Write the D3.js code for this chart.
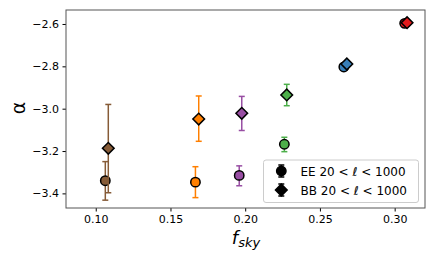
<!DOCTYPE html>
<html>
<head>
<meta charset="utf-8">
<script src="https://cdn.jsdelivr.net/npm/d3@7"></script>
<style>
  body { margin: 0; background: #fff; }
  #chart { width: 436px; height: 262px; }
  text { font-family: "DejaVu Sans", sans-serif; }
</style>
</head>
<body>
<div id="chart"></div>
<script>
// values
const colors = ["#865b37", "#ff7f00", "#984ea3", "#4daf4a", "#377eb8", "#e41a1c"];

const eeX = [0.1064, 0.1667, 0.1960, 0.2262, 0.2660, 0.3067];
const eeY = [-3.340, -3.347, -3.315, -3.168, -2.803, -2.597];
const eeLo = [-3.432, -3.420, -3.364, -3.203, -2.812, -2.603];
const eeHi = [-3.250, -3.274, -3.270, -3.135, -2.794, -2.591];

const bbX = [0.1084, 0.1689, 0.1977, 0.2278, 0.2680, 0.3083];
const bbY = [-3.187, -3.049, -3.022, -2.935, -2.789, -2.594];
const bbLo = [-3.397, -3.154, -3.103, -2.986, -2.799, -2.600];
const bbHi = [-2.980, -2.940, -2.942, -2.885, -2.779, -2.588];

const xTicks = [0.10, 0.15, 0.20, 0.25, 0.30];
const yTicks = [-3.4, -3.2, -3.0, -2.8, -2.6];
const legendLabels = ["EE", "BB"];

const width = 436, height = 262;
const margin = { left: 66, top: 10, right: 11, bottom: 54 };

const svg = d3.select("#chart").append("svg")
    .attr("width", width)
    .attr("height", height);

const x = d3.scaleLinear().domain([0.0801, 0.3203]).range([margin.left, width - margin.right]);
const y = d3.scaleLinear().domain([-3.469, -2.534]).range([height - margin.bottom, margin.top]);

// axes
const fmt = d => d3.format(".1f")(d).replace("-", "\u2212");
svg.append("g")
    .attr("transform", `translate(0,${height - margin.bottom})`)
    .call(d3.axisBottom(x).tickValues(xTicks).tickFormat(d3.format(".2f")).tickSize(3.5).tickPadding(3.5))
    .call(g => g.select(".domain").remove())
    .call(g => g.selectAll("text").attr("font-size", 11).attr("fill", "#000"));

svg.append("g")
    .attr("transform", `translate(${margin.left},0)`)
    .call(d3.axisLeft(y).tickValues(yTicks).tickFormat(fmt).tickSize(3.5).tickPadding(3.5))
    .call(g => g.select(".domain").remove())
    .call(g => g.selectAll("text").attr("font-size", 11).attr("fill", "#000"));

svg.append("rect")
    .attr("x", margin.left).attr("y", margin.top)
    .attr("width", width - margin.left - margin.right)
    .attr("height", height - margin.top - margin.bottom)
    .attr("fill", "none").attr("stroke", "#555").attr("stroke-width", 1);

// axis labels
svg.append("text")
    .attr("x", 19).attr("y", 108)
    .attr("text-anchor", "middle")
    .attr("dominant-baseline", "middle")
    .attr("transform", "rotate(-90,19,108)")
    .attr("font-size", 19)
    .text("\u03b1");

const xl = svg.append("text")
    .attr("x", 246).attr("y", 244)
    .attr("text-anchor", "middle")
    .attr("font-style", "italic")
    .attr("font-size", 18);
xl.append("tspan").text("f");
xl.append("tspan").attr("font-size", 13).attr("dy", 3).text("sky");

// error bars + markers
function drawErr(g, xs, ys, lo, hi, c) {
    const cap = 3;
    g.append("line")
        .attr("x1", x(xs)).attr("x2", x(xs))
        .attr("y1", y(lo)).attr("y2", y(hi))
        .attr("stroke", c).attr("stroke-width", 1.5);
    [lo, hi].forEach(v => {
        g.append("line")
            .attr("x1", x(xs) - cap).attr("x2", x(xs) + cap)
            .attr("y1", y(v)).attr("y2", y(v))
            .attr("stroke", c).attr("stroke-width", 1.5);
    });
}

const diamond = d3.symbol().type(d3.symbolSquare).size(68);
const plot = svg.append("g");

colors.forEach((c, i) => {
    const g = plot.append("g");
    drawErr(g, eeX[i], eeY[i], eeLo[i], eeHi[i], c);
    g.append("circle")
        .attr("cx", x(eeX[i])).attr("cy", y(eeY[i]))
        .attr("r", 4.7)
        .attr("fill", c).attr("stroke", "#000").attr("stroke-width", 1.5);
});
colors.forEach((c, i) => {
    const g = plot.append("g");
    drawErr(g, bbX[i], bbY[i], bbLo[i], bbHi[i], c);
    g.append("path")
        .attr("d", diamond())
        .attr("transform", `translate(${x(bbX[i])},${y(bbY[i])}) rotate(45)`)
        .attr("fill", c).attr("stroke", "#000").attr("stroke-width", 1.5);
});

// legend
const lg = svg.append("g");
lg.append("rect")
    .attr("x", 263.5).attr("y", 160).attr("width", 155).attr("height", 42.5)
    .attr("rx", 2.5)
    .attr("fill", "#fff").attr("fill-opacity", 0.8)
    .attr("stroke", "#ccc").attr("stroke-width", 1);

legendLabels.forEach((lab, i) => {
    const ly = 171 + i * 19;
    const lx = 281.3;
    lg.append("line")
        .attr("x1", lx).attr("x2", lx).attr("y1", ly - 6).attr("y2", ly + 6)
        .attr("stroke", "#000").attr("stroke-width", 1.5);
    [ly - 6, ly + 6].forEach(v => lg.append("line")
        .attr("x1", lx - 3).attr("x2", lx + 3).attr("y1", v).attr("y2", v)
        .attr("stroke", "#000").attr("stroke-width", 1.5));
    if (i === 0) {
        lg.append("circle").attr("cx", lx).attr("cy", ly).attr("r", 4.7)
            .attr("fill", "#000").attr("stroke", "#000").attr("stroke-width", 1.5);
    } else {
        lg.append("path").attr("d", diamond())
            .attr("transform", `translate(${lx},${ly}) rotate(45)`)
            .attr("fill", "#000").attr("stroke", "#000").attr("stroke-width", 1.5);
    }
    const t = lg.append("text")
        .attr("x", 300.5).attr("y", ly + 4.5)
        .attr("font-size", 12);
    t.append("tspan").text(lab + " 20");
    t.append("tspan").text(" < ");
    t.append("tspan").attr("font-style", "italic").text("\u2113");
    t.append("tspan").text(" < 1000");
});
</script>
</body>
</html>
